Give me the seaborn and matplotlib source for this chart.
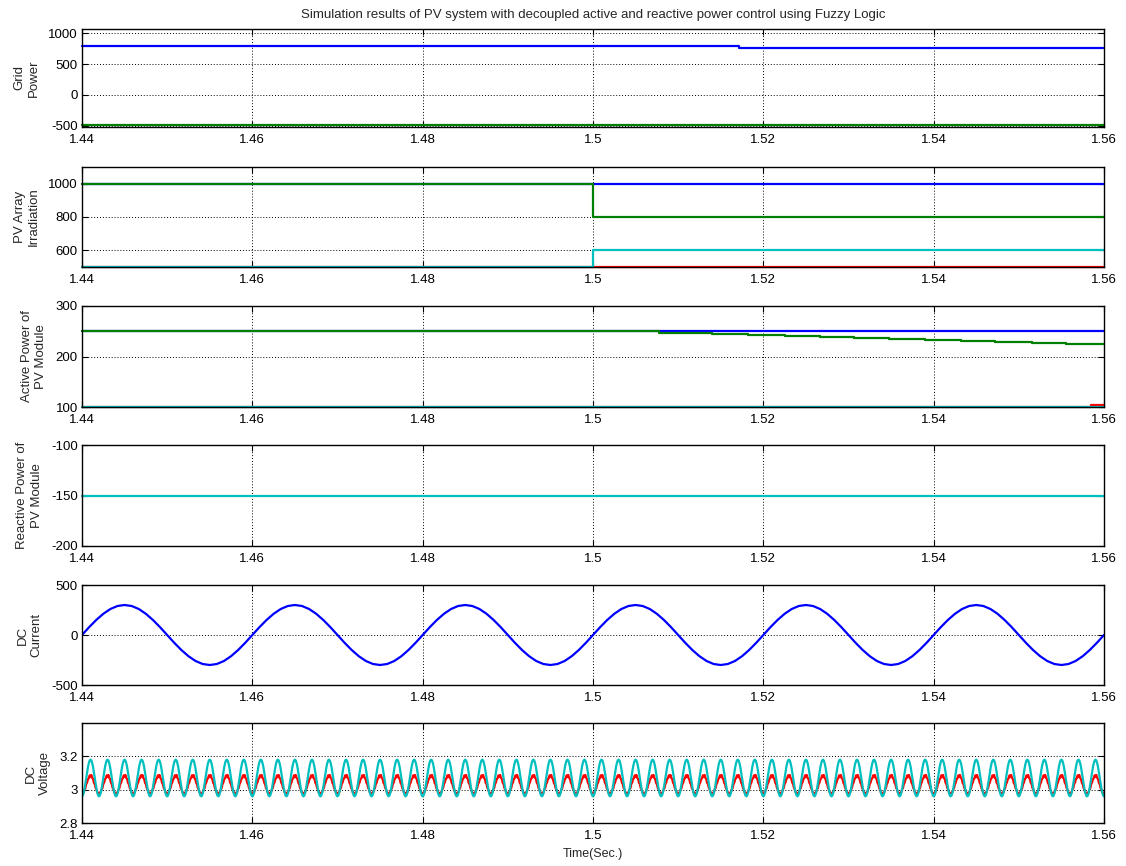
import numpy as np
import pandas as pd
import seaborn as sns
import matplotlib
matplotlib.use("Agg")
import matplotlib.pyplot as plt

# ---------------- data ----------------
t_start, t_end = 1.44, 1.56
x_ticks = [1.44, 1.46, 1.48, 1.50, 1.52, 1.54, 1.56]
x_tick_labels = ["1.44", "1.46", "1.48", "1.5", "1.52", "1.54", "1.56"]

# Grid power (step signals)
grid_blue_t = [1.44, 1.5171, 1.56]
grid_blue_v = [795, 765, 765]
grid_green_t = [1.44, 1.56]
grid_green_v = [-490, -490]

# PV array irradiation (step signals)
irr_blue_t = [1.44, 1.56]
irr_blue_v = [1000, 1000]
irr_green_t = [1.44, 1.50, 1.56]
irr_green_v = [1000, 800, 800]
irr_red_t = [1.44, 1.56]
irr_red_v = [500, 500]
irr_cyan_t = [1.44, 1.50, 1.56]
irr_cyan_v = [500, 600, 600]

# Active power of PV module
act_blue_t = [1.44, 1.56]
act_blue_v = [250, 250]
act_green_t = [1.44, 1.5077, 1.5140, 1.5182, 1.5225, 1.5267, 1.5307, 1.5347,
               1.5390, 1.5432, 1.5472, 1.5515, 1.5555, 1.56]
act_green_v = [250, 247.5, 245.5, 243, 241, 239, 237, 234.5,
               232.5, 230.5, 229, 227, 225, 225]
act_red_t = [1.44, 1.5585, 1.56]
act_red_v = [100, 104, 104]
act_cyan_t = [1.44, 1.56]
act_cyan_v = [100, 100]

# Reactive power of PV module
react_cyan_t = [1.44, 1.56]
react_cyan_v = [-150, -150]

# DC current: one 50 Hz cycle (24 samples), repeated over the window
current_cycle = [0, 78, 150, 212, 260, 290, 300, 290, 260, 212, 150, 78,
                 0, -78, -150, -212, -260, -290, -300, -290, -260, -212, -150, -78]
current_period = 0.02

# DC voltage ripple: one cycle (20 samples) for each trace
volt_cyan_cycle = [2.960, 2.965, 2.981, 3.005, 3.036, 3.070, 3.104, 3.135, 3.159, 3.175,
                   3.180, 3.175, 3.159, 3.135, 3.104, 3.070, 3.036, 3.005, 2.981, 2.965]
volt_red_cycle = [2.977, 2.982, 2.985, 3.002, 3.010, 3.034, 3.043, 3.064, 3.068, 3.086,
                  3.078, 3.088, 3.070, 3.064, 3.041, 3.033, 3.010, 3.001, 2.984, 2.981]
volt_period = 0.002

panel_labels = ["Grid\nPower", "PV Array\nIrradiation", "Active Power of\nPV Module",
                "Reactive Power of\nPV Module", "DC\nCurrent", "DC\nVoltage"]
panel_ylims = [(-520, 1070), (500, 1100), (100, 300), (-200, -100), (-500, 500), (2.8, 3.4)]
panel_yticks = [[-500, 0, 500, 1000], [600, 800, 1000], [100, 200, 300],
                [-200, -150, -100], [-500, 0, 500], [2.8, 3.0, 3.2]]
panel_ytick_labels = [["-500", "0", "500", "1000"], ["600", "800", "1000"],
                      ["100", "200", "300"], ["-200", "-150", "-100"],
                      ["-500", "0", "500"], ["2.8", "3", "3.2"]]

title = ("Simulation results of PV system with decoupled active and "
         "reactive power control using Fuzzy Logic")
x_label = "Time(Sec.)"

# ---------------- style ----------------
sns.set_style("ticks")
plt.rcParams["font.family"] = ["Liberation Sans", "DejaVu Sans"]
plt.rcParams["axes.linewidth"] = 1.0
plt.rcParams["axes.edgecolor"] = "black"

C_BLUE = "#0000FF"
C_GREEN = "#007F00"
C_RED = "#FF0000"
C_CYAN = "#00BFBF"
LW = 1.6

W, H = 1126, 866
fig = plt.figure(figsize=(W / 100, H / 100), dpi=100)

# axes boxes in pixels: (top, bottom)
left_px, right_px = 82, 1104
boxes_px = [(29, 127), (167, 267), (306, 407), (445, 546), (585, 685), (723, 823)]
axes = []
for top, bot in boxes_px:
    ax = fig.add_axes([left_px / W, 1 - bot / H, (right_px - left_px) / W, (bot - top) / H])
    axes.append(ax)


def periodic(cycle, period):
    n_cycles = int(round((t_end - t_start) / period))
    vals = np.concatenate([np.tile(cycle, n_cycles), [cycle[0]]])
    t = np.linspace(t_start, t_end, len(vals))
    return t, vals


def step(ax, t, v, color):
    sns.lineplot(x=t, y=v, ax=ax, color=color, lw=LW, drawstyle="steps-post",
                 estimator=None, sort=False, clip_on=False)


# panel 1: grid power
step(axes[0], grid_blue_t, grid_blue_v, C_BLUE)
step(axes[0], grid_green_t, grid_green_v, C_GREEN)

# panel 2: irradiation
step(axes[1], irr_blue_t, irr_blue_v, C_BLUE)
step(axes[1], irr_green_t, irr_green_v, C_GREEN)
step(axes[1], irr_red_t, irr_red_v, C_RED)
step(axes[1], irr_cyan_t, irr_cyan_v, C_CYAN)

# panel 3: active power
step(axes[2], act_blue_t, act_blue_v, C_BLUE)
step(axes[2], act_green_t, act_green_v, C_GREEN)
step(axes[2], act_red_t, act_red_v, C_RED)
step(axes[2], act_cyan_t, act_cyan_v, C_CYAN)

# panel 4: reactive power
step(axes[3], react_cyan_t, react_cyan_v, C_CYAN)

# panel 5: DC current
ct, cv = periodic(current_cycle, current_period)
sns.lineplot(x=ct, y=cv, ax=axes[4], color=C_BLUE, lw=LW, estimator=None, sort=False)

# panel 6: DC voltage
rt, rv = periodic(volt_red_cycle, volt_period)
vt, vv = periodic(volt_cyan_cycle, volt_period)
sns.lineplot(x=rt, y=rv, ax=axes[5], color=C_RED, lw=LW, estimator=None, sort=False)
sns.lineplot(x=vt, y=vv, ax=axes[5], color=C_CYAN, lw=LW, estimator=None, sort=False)

for i, ax in enumerate(axes):
    ax.set_xlim(t_start, t_end)
    ax.set_ylim(*panel_ylims[i])
    ax.set_xticks(x_ticks)
    ax.set_xticklabels(x_tick_labels)
    ax.set_yticks(panel_yticks[i])
    ax.set_yticklabels(panel_ytick_labels[i])
    ax.tick_params(direction="in", top=True, right=True, length=4, width=0.8,
                   labelsize=9.5, colors="black")
    ax.tick_params(axis="x", pad=5)
    ax.tick_params(axis="y", pad=3)
    ax.grid(True, color="black", linestyle=(0, (1, 2)), linewidth=0.7)
    ax.set_axisbelow(True)
    for s in ax.spines.values():
        s.set_visible(True)
        s.set_linewidth(1.0)
    ax.set_ylabel(panel_labels[i], fontsize=9.5, labelpad=6, linespacing=1.25)
    ax.set_xlabel("")

axes[-1].set_xlabel(x_label, fontsize=9, labelpad=4)
fig.text(0.5 * (left_px + right_px) / W, 1 - 15 / H, title, ha="center", va="center",
         fontsize=9.5)

fig.savefig("out.png", dpi=100)
